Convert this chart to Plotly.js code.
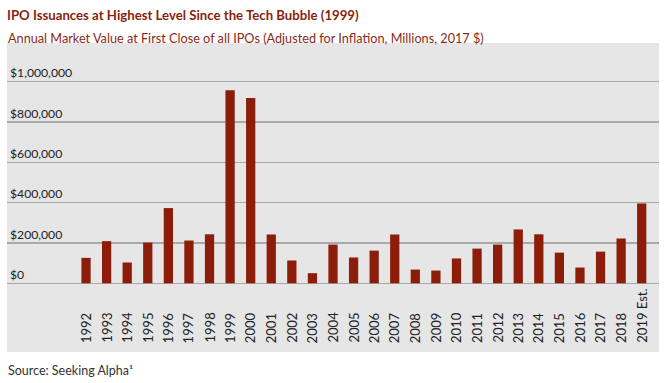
<!DOCTYPE html>
<html>
<head>
<meta charset="utf-8">
<script src="https://cdn.plot.ly/plotly-3.0.1.min.js"></script>
<style>
  html, body { margin: 0; padding: 0; background: #ffffff; }
  #chart { width: 666px; height: 383px; }
</style>
</head>
<body>
<div id="chart"></div>
<script>
// ---- Data ----
const years = ['1992','1993','1994','1995','1996','1997','1998','1999','2000','2001',
               '2002','2003','2004','2005','2006','2007','2008','2009','2010','2011',
               '2012','2013','2014','2015','2016','2017','2018','2019 Est.'];
const marketValue = [126000, 209000, 103000, 202000, 373000, 212000, 243000, 957000, 919000, 242000,
                     113000, 50000, 192000, 128000, 162000, 242000, 68000, 63000, 123000, 172000,
                     192000, 267000, 243000, 152000, 78000, 157000, 222000, 396000];
const yTickVals = [0, 200000, 400000, 600000, 800000, 1000000];
const yTickText = ['$0', '$200,000', '$400,000', '$600,000', '$800,000', '$1,000,000'];

const titleText = 'IPO Issuances at Highest Level Since the Tech Bubble (1999)';
const subtitleText = 'Annual Market Value at First Close of all IPOs (Adjusted for Inflation, Millions, 2017 $)';
const sourceText = 'Source: Seeking Alpha¹';

const FONT = 'Lato, "Open Sans", sans-serif';

const trace = {
  type: 'bar',
  x: years,
  y: marketValue,
  marker: { color: '#8b1d0a' },
  hoverinfo: 'x+y'
};

// category labels placed bottom-aligned under each bar (x given as category index)
const xLabelAnns = years.map(function (yr, i) {
  return {
    text: yr, x: i, xref: 'x', y: 0.026, yref: 'paper',
    xanchor: 'center', yanchor: 'bottom', textangle: -90,
    showarrow: false, borderpad: 0,
    font: { family: FONT, size: 13, color: '#222222' }
  };
});

const layout = {
  width: 666, height: 383,
  margin: { l: 7, r: 7, t: 43, b: 31, pad: 0 },
  paper_bgcolor: '#ffffff',
  plot_bgcolor: '#e6e6e7',
  showlegend: false,
  bargap: 0.55,
  title: {
    text: '<b>' + titleText + '</b>',
    x: 0, xref: 'paper', xanchor: 'left',
    y: 1 - 15 / 383, yref: 'container', yanchor: 'middle',
    pad: { l: 0, r: 0, t: 0, b: 0 },
    font: { family: FONT, size: 13.2, color: '#8a1f0f' }
  },
  xaxis: {
    type: 'category',
    range: [-3.84, 27.84],
    showticklabels: false,
    showgrid: false, zeroline: false, showline: false, ticks: ''
  },
  yaxis: {
    range: [-341000, 1192000],
    tickmode: 'array',
    tickvals: yTickVals,
    ticktext: yTickText,
    ticklabelposition: 'inside top',
    ticks: '',
    showgrid: true, gridcolor: '#a9a9a9', gridwidth: 1.5,
    zeroline: false, showline: false,
    tickfont: { family: FONT, size: 12.2, color: '#222222' }
  },
  annotations: xLabelAnns.concat([
    {
      text: subtitleText, x: 0, xref: 'paper', xanchor: 'left',
      y: 1 + 5 / 309, yref: 'paper', yanchor: 'middle',
      showarrow: false, borderpad: 0,
      font: { family: FONT, size: 12.7, color: '#8b2a17' }
    },
    {
      text: sourceText, x: 0, xref: 'paper', xanchor: 'left',
      y: -18 / 309, yref: 'paper', yanchor: 'middle',
      showarrow: false, borderpad: 0,
      font: { family: FONT, size: 12.5, color: '#333333' }
    }
  ])
};

Plotly.newPlot('chart', [trace], layout, { displayModeBar: false, staticPlot: true });
</script>
</body>
</html>
